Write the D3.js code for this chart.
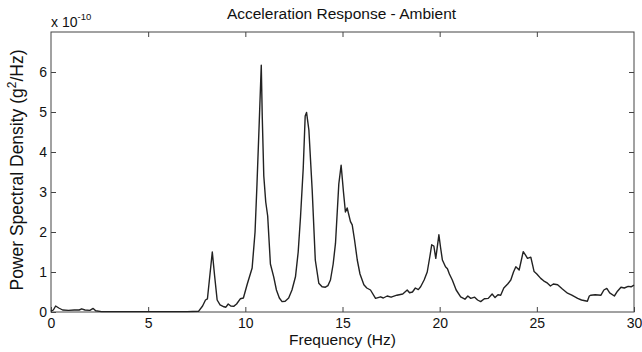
<!DOCTYPE html>
<html>
<head>
<meta charset="utf-8">
<script src="https://cdn.jsdelivr.net/npm/d3@7"></script>
<style>
  body { margin: 0; background: #fff; }
  text { font-family: "Liberation Sans", Arial, sans-serif; fill: #111; }
</style>
</head>
<body>
<svg id="chart" width="642" height="352"></svg>
<script>
// frequency (Hz) and PSD (x 1e-10 g^2/Hz)
const freq = [0.0, 0.12, 0.24, 0.4, 0.6, 0.9, 1.2, 1.45, 1.58, 1.75, 2.0, 2.17, 2.3, 2.6, 3.5, 5.0, 6.0, 7.0, 7.6,
  7.8, 7.95, 8.05, 8.15, 8.3, 8.42, 8.55, 8.7, 8.9, 9.0, 9.12, 9.25, 9.4, 9.55, 9.74, 9.9, 10.1, 10.35, 10.5,
  10.6, 10.72, 10.82, 10.87, 10.95, 11.05, 11.15, 11.29, 11.46, 11.6, 11.75, 11.89, 12.05, 12.23, 12.4, 12.58,
  12.72, 12.84, 12.98, 13.08, 13.15, 13.27, 13.44, 13.6, 13.78, 13.95, 14.12, 14.25, 14.38, 14.52, 14.64, 14.81,
  14.93, 15.05, 15.15, 15.24, 15.41, 15.5, 15.62, 15.76, 15.9, 16.1, 16.25, 16.44, 16.7, 16.96, 17.1, 17.3, 17.5,
  17.8, 18.1, 18.33, 18.45, 18.6, 18.75, 18.9, 19.02, 19.2, 19.36, 19.5, 19.59, 19.7, 19.8, 19.96, 20.05, 20.14,
  20.3, 20.4, 20.5, 20.65, 20.85, 21.08, 21.3, 21.45, 21.6, 21.8, 21.95, 22.11, 22.3, 22.5, 22.7, 22.85, 23.0,
  23.14, 23.3, 23.5, 23.66, 23.8, 23.92, 24.09, 24.3, 24.42, 24.52, 24.69, 24.86, 25.0, 25.2, 25.35, 25.55, 25.7,
  25.85, 26.07, 26.3, 26.58, 26.8, 27.1, 27.3, 27.6, 27.7, 27.78, 28.0, 28.3, 28.45, 28.6, 28.75, 28.99, 29.15,
  29.33, 29.5, 29.7, 29.85, 30.0];
const psd = [0.02, 0.05, 0.15, 0.1, 0.05, 0.04, 0.05, 0.05, 0.08, 0.05, 0.04, 0.09, 0.03, 0.01, 0.01, 0.01, 0.01, 0.01, 0.02,
  0.15, 0.3, 0.33, 0.8, 1.5, 0.9, 0.3, 0.18, 0.13, 0.12, 0.2, 0.15, 0.14, 0.2, 0.33, 0.35, 0.7, 1.1, 2.0,
  3.2, 4.8, 6.17, 4.9, 3.4, 2.75, 2.4, 1.2, 0.88, 0.55, 0.35, 0.26, 0.27, 0.35, 0.55, 0.88,
  1.5, 2.38, 3.6, 4.9, 4.99, 4.55, 3.05, 1.3, 0.72, 0.63, 0.62, 0.66, 0.8, 1.2, 1.72, 3.2,
  3.67, 3.0, 2.5, 2.6, 2.26, 2.18, 1.8, 1.3, 0.95, 0.68, 0.6, 0.55, 0.34, 0.38, 0.35, 0.4, 0.37,
  0.42, 0.45, 0.55, 0.48, 0.5, 0.6, 0.56, 0.63, 0.8, 1.0, 1.4, 1.68, 1.65, 1.34, 1.93, 1.6, 1.3,
  1.13, 1.08, 0.95, 0.8, 0.55, 0.38, 0.32, 0.4, 0.34, 0.37, 0.3, 0.26, 0.33, 0.34, 0.45, 0.36, 0.43,
  0.42, 0.6, 0.7, 0.8, 1.0, 1.13, 1.05, 1.51, 1.42, 1.34, 1.37, 1.01, 0.95, 0.84, 0.78, 0.72, 0.65,
  0.7, 0.68, 0.58, 0.47, 0.42, 0.34, 0.3, 0.27, 0.4, 0.42, 0.43, 0.42, 0.55, 0.59, 0.48, 0.4, 0.52,
  0.62, 0.6, 0.64, 0.63, 0.67];
const xTicks = [0, 5, 10, 15, 20, 25, 30];
const yTicks = [0, 1, 2, 3, 4, 5, 6];

const margin = {top: 32, right: 8, bottom: 40, left: 51};
const W = 642, H = 352;
const innerW = W - margin.left - margin.right;
const innerH = H - margin.top - margin.bottom;

const svg = d3.select('#chart');
const g = svg.append('g').attr('transform', 'translate(' + margin.left + ',' + margin.top + ')');

const x = d3.scaleLinear().domain([0, 30]).range([0, innerW]);
const y = d3.scaleLinear().domain([0, 7]).range([innerH, 0]);

// axes with inward ticks, matlab style
const axisColor = '#444';
const tick = 5;
const fmt = d3.format('d');

g.append('g')
    .attr('transform', 'translate(0,' + innerH + ')')
    .call(d3.axisBottom(x).tickValues(xTicks).tickFormat(fmt).tickSizeInner(-tick).tickSizeOuter(0).tickPadding(6))
    .call(a => a.selectAll('text').style('font-size', '14px'));

g.append('g')
    .call(d3.axisTop(x).tickValues(xTicks.slice(1, -1)).tickSizeInner(-tick).tickSizeOuter(0).tickFormat(''));

g.append('g')
    .call(d3.axisLeft(y).tickValues(yTicks).tickFormat(fmt).tickSizeInner(-tick).tickSizeOuter(0).tickPadding(4))
    .call(a => a.selectAll('text').style('font-size', '14px'));

g.append('g')
    .attr('transform', 'translate(' + innerW + ',0)')
    .call(d3.axisRight(y).tickValues(yTicks.slice(1)).tickSizeInner(-tick).tickSizeOuter(0).tickFormat(''));

g.selectAll('.domain').remove();
g.selectAll('.tick line').attr('stroke', axisColor);
g.selectAll('.tick text').attr('fill', '#111').style('font-family', '"Liberation Sans", Arial, sans-serif');

g.append('rect')
    .attr('width', innerW)
    .attr('height', innerH)
    .attr('fill', 'none')
    .attr('stroke', axisColor)
    .attr('stroke-width', 1);

// the psd curve
const pts = freq.map((f, i) => [f, psd[i]]);
const line = d3.line().x(d => x(d[0])).y(d => y(d[1]));
g.append('path')
    .datum(pts)
    .attr('d', line)
    .attr('fill', 'none')
    .attr('stroke', '#222')
    .attr('stroke-width', 1.4)
    .attr('stroke-linejoin', 'round');

// titles
svg.append('text')
    .attr('x', margin.left + innerW / 2 - 1)
    .attr('y', 19)
    .attr('text-anchor', 'middle')
    .style('font-size', '15.5px')
    .text('Acceleration Response - Ambient');

svg.append('text')
    .attr('x', margin.left + innerW / 2)
    .attr('y', 345)
    .attr('text-anchor', 'middle')
    .style('font-size', '15.5px')
    .text('Frequency (Hz)');

const yl = svg.append('text')
    .attr('transform', 'translate(23,' + (margin.top + innerH / 2 - 2) + ') rotate(-90)')
    .attr('text-anchor', 'middle')
    .style('font-size', '17.5px');
yl.append('tspan').text('Power Spectral Density (g');
yl.append('tspan').attr('dy', -7).style('font-size', '12px').text('2');
yl.append('tspan').attr('dy', 7).text('/Hz)');

// exponent label
const ex = svg.append('text')
    .attr('x', 51)
    .attr('y', 27)
    .style('font-size', '14px');
ex.append('tspan').text('x 10');
ex.append('tspan').attr('dy', -7).style('font-size', '9.5px').text('-10');
</script>
</body>
</html>
